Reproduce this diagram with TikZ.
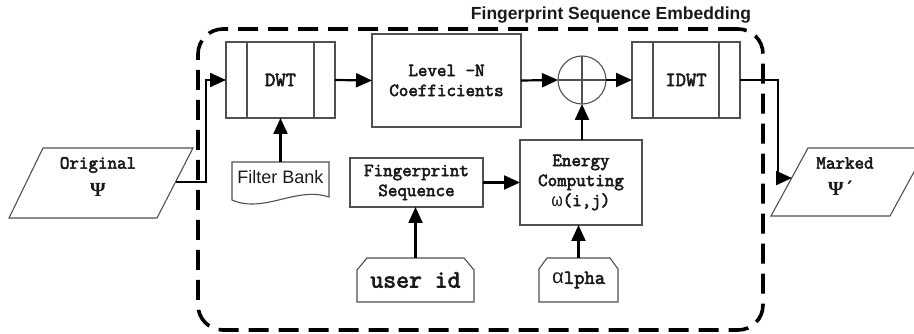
\documentclass[tikz,border=0pt]{standalone}
\usepackage{fontspec}
\setmainfont{Liberation Sans}
\newfontfamily\cour{Latin Modern Mono}[FakeBold=3]
\newfontfamily\greekmono{Liberation Mono}
\newfontfamily\psifont{Liberation Serif}
\newfontfamily\primefont{DejaVu Sans Mono}
\usetikzlibrary{arrows.meta}
\definecolor{boxgray}{HTML}{505050}
\definecolor{ink}{HTML}{1A1A1A}
\newcommand{\gk}[1]{{\greekmono\mdseries #1}}
\begin{document}
\begin{tikzpicture}[x=1pt,y=-1pt,
  boxline/.style={draw=boxgray, line width=1.1pt},
  box/.style={boxline, inner sep=0pt, outer sep=0pt},
  plain/.style={inner sep=0pt, outer sep=0pt},
  mono/.style={font=\cour\bfseries\fontsize{18.5}{20}\selectfont, align=center, text=ink},
  dbar/.style={path picture={
    \draw[boxgray, line width=1.1pt]
      ([xshift=21pt]path picture bounding box.north west) -- ([xshift=21pt]path picture bounding box.south west)
      ([xshift=-21pt]path picture bounding box.north east) -- ([xshift=-21pt]path picture bounding box.south east);}},
  cross/.style={path picture={
    \draw[boxgray, line width=1.1pt]
      (path picture bounding box.north) -- (path picture bounding box.south)
      (path picture bounding box.west) -- (path picture bounding box.east);}},
  conn/.style={draw=black, line width=2.2pt, -{Triangle[length=16pt,width=14pt]}},
  frameline/.style={draw=black, line width=3.6pt, dash pattern=on 20pt off 10pt, rounded corners=25pt},
  psi/.style={plain, font=\psifont\bfseries\fontsize{20}{20}\selectfont, text=ink}]

\useasboundingbox (0,0) rectangle (914,334);
\clip (0,0) rectangle (914,334);

% embedding frame and its title
\node[frameline, plain, minimum width=565pt, minimum height=301pt] (frame) at (480.5,179.5) {};
\node[plain, anchor=east, font=\bfseries\fontsize{17.5}{20}\selectfont, text=ink] (title) at (751,15) {Fingerprint Sequence Embedding};

% main chain
\node[box, dbar, mono, font=\cour\bfseries\fontsize{20}{20}\selectfont, minimum width=109pt, minimum height=76pt] (dwt) at (280.5,80) {DWT};
\node[box, mono, minimum width=149pt, minimum height=93pt] (lvl) at (446.5,80.5) {Level -N\\Coefficients};
\node[box, cross, circle, minimum size=48pt] (sum) at (582,80) {};
\node[box, dbar, mono, font=\cour\bfseries\fontsize{20}{20}\selectfont, minimum width=108pt, minimum height=76pt] (idwt) at (686,80) {IDWT};

% lower blocks
\node[box, mono, minimum width=133pt, minimum height=49pt] (fps) at (416.5,182.5) {Fingerprint\\Sequence};
\node[box, mono, minimum width=122pt, minimum height=85pt] (eng) at (581,182.5) {Energy\\Computing\\\gk{ω}(i,j)};

% filter bank (document shape)
\node[plain, minimum width=97pt, minimum height=30pt, font=\fontsize{18}{20}\selectfont, text=ink] (fb) at (280.5,177) {Filter Bank};
\draw[boxline] (fb.north west) -- (fb.north east) -- (329,197)
  .. controls (296,186) and (264,214) .. (232,200) -- cycle;

% manual inputs (chamfered top corners)
\node[plain, mono, font=\cour\bfseries\fontsize{25}{26}\selectfont, minimum width=117pt, minimum height=44pt] (uid) at (415.5,280) {user id};
\draw[boxline] (uid.south west) -- ([yshift=-12pt]uid.north west) -- ([xshift=10pt]uid.north west)
  -- ([xshift=-10pt]uid.north east) -- ([yshift=-12pt]uid.north east) -- (uid.south east) -- cycle;
\node[plain, mono, font=\cour\bfseries\fontsize{20}{20}\selectfont, minimum width=79pt, minimum height=44pt] (alp) at (578.5,280) {\gk{α}lpha};
\draw[boxline] (alp.south west) -- ([yshift=-11pt]alp.north west) -- ([xshift=8pt]alp.north west)
  -- ([xshift=-8pt]alp.north east) -- ([yshift=-11pt]alp.north east) -- (alp.south east) -- cycle;

% input and output data (parallelograms)
\draw[boxline] (43,148) -- (193,148) -- (157,218) -- (9,218) -- cycle;
\node[plain, mono] (orig) at (98,165) {Original};
\node[psi] (origpsi) at (98,190) {Ψ};
\coordinate (origout) at (175.5,182);

\draw[boxline] (808,148) -- (927,148) -- (890,216) -- (771,216) -- cycle;
\node[plain, mono] (marked) at (845,163) {Marked};
\node[psi] (markpsi) at (842,188) {Ψ{\primefont\bfseries ′}};
\coordinate (markin) at (792,178);

% connectors
\coordinate (bendin) at (206,182);
\coordinate (bendout) at (778,80);
\draw[conn] (origout) -- (bendin) |- (dwt.west);
\draw[conn] (dwt.east) -- (lvl.west);
\draw[conn] (lvl.east) -- (sum.west);
\draw[conn] (sum.east) -- (idwt.west);
\draw[conn] (idwt.east) -- (bendout) |- (markin);
\draw[conn] (fb.north) -- (dwt.south);
\draw[conn] (fps.east) -- (fps.east -| eng.west);
\draw[conn] (uid.north) -- (uid.north |- fps.south);
\draw[conn] (alp.north) -- (alp.north |- eng.south);
\draw[conn] (eng.north -| sum.south) -- (sum.south);
\end{tikzpicture}
\end{document}
